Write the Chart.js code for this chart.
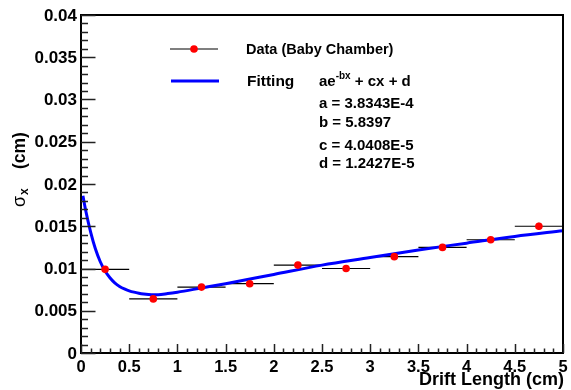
<!DOCTYPE html>
<html>
<head>
<meta charset="utf-8">
<script src="https://cdn.jsdelivr.net/npm/chart.js@4.4.1/dist/chart.umd.min.js"></script>
<style>
  html, body { margin: 0; padding: 0; background: #fff; }
  #wrap { width: 571px; height: 390px; }
</style>
</head>
<body>
<div id="wrap"><canvas id="c" width="571" height="390"></canvas></div>
<script>
// Drift-length bins (cm) and measured resolution sigma_x (cm)
const binCenters   = [0.25, 0.75, 1.25, 1.75, 2.25, 2.75, 3.25, 3.75, 4.25, 4.75];
const binHalfWidth = [0.25, 0.25, 0.25, 0.25, 0.25, 0.25, 0.25, 0.25, 0.25, 0.25];
const sigmaX       = [0.0099, 0.0064, 0.0078, 0.0082, 0.0104, 0.0100, 0.0114, 0.0125, 0.0134, 0.0150];
const sigmaErr     = [0.0002, 0.0002, 0.0002, 0.0002, 0.0002, 0.0002, 0.0002, 0.0003, 0.0003, 0.0004];

// Fitted curve ae^(-bx) + cx + d, sampled along the drift length
const fitX = [0.02, 0.05, 0.1, 0.15, 0.2, 0.25, 0.3, 0.35, 0.4, 0.45, 0.5, 0.55, 0.6, 0.65, 0.7, 0.75, 0.8, 0.9, 1.0, 1.25, 1.5, 2.0, 2.5, 3.0, 3.5, 4.0, 4.5, 5.0];
const fitY = [0.0186, 0.0168, 0.0143, 0.0123, 0.0108, 0.0097, 0.0089, 0.0083, 0.00788, 0.00758, 0.00736, 0.0072, 0.00708, 0.00699, 0.00693, 0.0069, 0.0069, 0.00703, 0.0072, 0.0077, 0.0082, 0.0093, 0.0104, 0.0113, 0.0122, 0.0130, 0.0138, 0.01448];

// Axis tick labels
const xTicks = [0, 0.5, 1, 1.5, 2, 2.5, 3, 3.5, 4, 4.5, 5];
const yTicks = [0, 0.005, 0.01, 0.015, 0.02, 0.025, 0.03, 0.035, 0.04];
const xTickLabels = ['0', '0.5', '1', '1.5', '2', '2.5', '3', '3.5', '4', '4.5', '5'];
const yTickLabels = ['0', '0.005', '0.01', '0.015', '0.02', '0.025', '0.03', '0.035', '0.04'];

// Legend / fit annotation text
const legendData = 'Data (Baby Chamber)';
const legendFit = 'Fitting';
const fitParams = ['a = 3.8343E-4', 'b = 5.8397', 'c = 4.0408E-5', 'd = 1.2427E-5'];

const FONT = '"Liberation Sans", Arial, Helvetica, sans-serif';

// Frame, inward ticks, labels, error bars and legend in the style of a ROOT canvas
const rootStyle = {
  id: 'rootStyle',
  beforeDatasetsDraw(chart) {
    const { ctx, scales: { x, y } } = chart;
    ctx.save();
    ctx.strokeStyle = '#000';
    ctx.lineWidth = 1.2;
    binCenters.forEach((xc, i) => {
      const py = y.getPixelForValue(sigmaX[i]);
      const px = x.getPixelForValue(xc);
      ctx.beginPath();
      ctx.moveTo(x.getPixelForValue(xc - binHalfWidth[i]), py);
      ctx.lineTo(x.getPixelForValue(xc + binHalfWidth[i]), py);
      ctx.moveTo(px, y.getPixelForValue(sigmaX[i] - sigmaErr[i]));
      ctx.lineTo(px, y.getPixelForValue(sigmaX[i] + sigmaErr[i]));
      ctx.stroke();
    });
    ctx.restore();
  },
  afterDatasetsDraw(chart) {
    const { ctx, chartArea: a, scales: { x, y } } = chart;
    ctx.save();

    // frame
    ctx.strokeStyle = '#000';
    ctx.lineWidth = 2;
    ctx.strokeRect(a.left, a.top, a.right - a.left, a.bottom - a.top);

    // ticks
    ctx.lineWidth = 1.5;
    ctx.strokeStyle = '#222';
    ctx.beginPath();
    for (let v = 0; v <= 0.04 + 1e-9; v += 0.001) {
      const py = Math.round(y.getPixelForValue(v)) + 0.5;
      const major = Math.abs(v / 0.005 - Math.round(v / 0.005)) < 1e-6;
      ctx.moveTo(a.left, py);
      ctx.lineTo(a.left + (major ? 14.5 : 7), py);
    }
    for (let v = 0; v <= 5 + 1e-9; v += 0.1) {
      const px = Math.round(x.getPixelForValue(v)) + 0.5;
      const major = Math.abs(v / 0.5 - Math.round(v / 0.5)) < 1e-6;
      ctx.moveTo(px, a.bottom);
      ctx.lineTo(px, a.bottom - (major ? 9 : 4.5));
    }
    ctx.stroke();

    // tick labels
    ctx.fillStyle = '#000';
    ctx.font = 'bold 17px ' + FONT;
    ctx.textAlign = 'right';
    ctx.textBaseline = 'middle';
    yTicks.forEach((v, i) => ctx.fillText(yTickLabels[i], a.left - 4, y.getPixelForValue(v) + 1));
    ctx.font = 'bold 16.5px ' + FONT;
    ctx.textAlign = 'center';
    ctx.textBaseline = 'top';
    xTicks.forEach((v, i) => ctx.fillText(xTickLabels[i], x.getPixelForValue(v), a.bottom + 6));

    // x title
    ctx.textAlign = 'right';
    ctx.textBaseline = 'alphabetic';
    ctx.font = 'bold 18px ' + FONT;
    ctx.fillText('Drift Length (cm)', 564, 385);

    // y title, rotated
    ctx.save();
    ctx.translate(25, 207);
    ctx.rotate(-Math.PI / 2);
    ctx.textAlign = 'left';
    ctx.font = '18px ' + FONT;
    ctx.fillText('\u03C3', 0, 0);
    const w = ctx.measureText('\u03C3').width;
    ctx.font = 'bold 12px ' + FONT;
    ctx.fillText('x', w + 1, 3);
    ctx.font = 'bold 17.5px ' + FONT;
    ctx.fillText('(cm)', 38, 0);
    ctx.restore();

    // legend
    ctx.strokeStyle = '#000';
    ctx.lineWidth = 1.2;
    ctx.beginPath();
    ctx.moveTo(170, 49);
    ctx.lineTo(218, 49);
    ctx.stroke();
    ctx.fillStyle = '#ff0000';
    ctx.beginPath();
    ctx.arc(194, 49, 3.8, 0, Math.PI * 2);
    ctx.fill();
    ctx.strokeStyle = '#0000ff';
    ctx.lineWidth = 3;
    ctx.beginPath();
    ctx.moveTo(171, 81);
    ctx.lineTo(219, 81);
    ctx.stroke();

    ctx.fillStyle = '#000';
    ctx.textAlign = 'left';
    ctx.textBaseline = 'alphabetic';
    ctx.font = 'bold 14.5px ' + FONT;
    ctx.fillText(legendData, 246, 54);
    ctx.font = 'bold 15.5px ' + FONT;
    ctx.fillText(legendFit, 247, 86);
    ctx.font = 'bold 15px ' + FONT;
    let fx = 319;
    ctx.fillText('ae', fx, 86);
    fx += ctx.measureText('ae').width;
    ctx.font = 'bold 10px ' + FONT;
    ctx.fillText('-bx', fx, 79);
    fx += ctx.measureText('-bx').width;
    ctx.font = 'bold 15px ' + FONT;
    ctx.fillText(' + cx + d', fx, 86);
    const paramY = [108, 127, 150, 168];
    fitParams.forEach((t, i) => ctx.fillText(t, 319, paramY[i]));

    ctx.restore();
  }
};

new Chart(document.getElementById('c'), {
  data: {
    datasets: [
      {
        type: 'scatter',
        label: legendData,
        data: binCenters.map((xc, i) => ({ x: xc, y: sigmaX[i] })),
        pointRadius: 3.8,
        pointHoverRadius: 3.8,
        pointBackgroundColor: '#ff0000',
        pointBorderWidth: 0
      },
      {
        type: 'line',
        label: legendFit,
        data: fitX.map((xv, i) => ({ x: xv, y: fitY[i] })),
        borderColor: '#0000ff',
        borderWidth: 3,
        pointRadius: 0,
        cubicInterpolationMode: 'monotone',
        fill: false
      }
    ]
  },
  options: {
    responsive: false,
    animation: false,
    devicePixelRatio: 1,
    layout: { padding: { left: 81, top: 15, right: 8, bottom: 37 } },
    plugins: { legend: { display: false }, tooltip: { enabled: false } },
    scales: {
      x: {
        type: 'linear', min: 0, max: 5,
        ticks: { display: false, stepSize: 0.5 },
        grid: { display: false }, border: { display: false },
        afterFit(s) { s.height = 0; }
      },
      y: {
        type: 'linear', min: 0, max: 0.04,
        ticks: { display: false, stepSize: 0.005 },
        grid: { display: false }, border: { display: false },
        afterFit(s) { s.width = 0; }
      }
    }
  },
  plugins: [rootStyle]
});
</script>
</body>
</html>
